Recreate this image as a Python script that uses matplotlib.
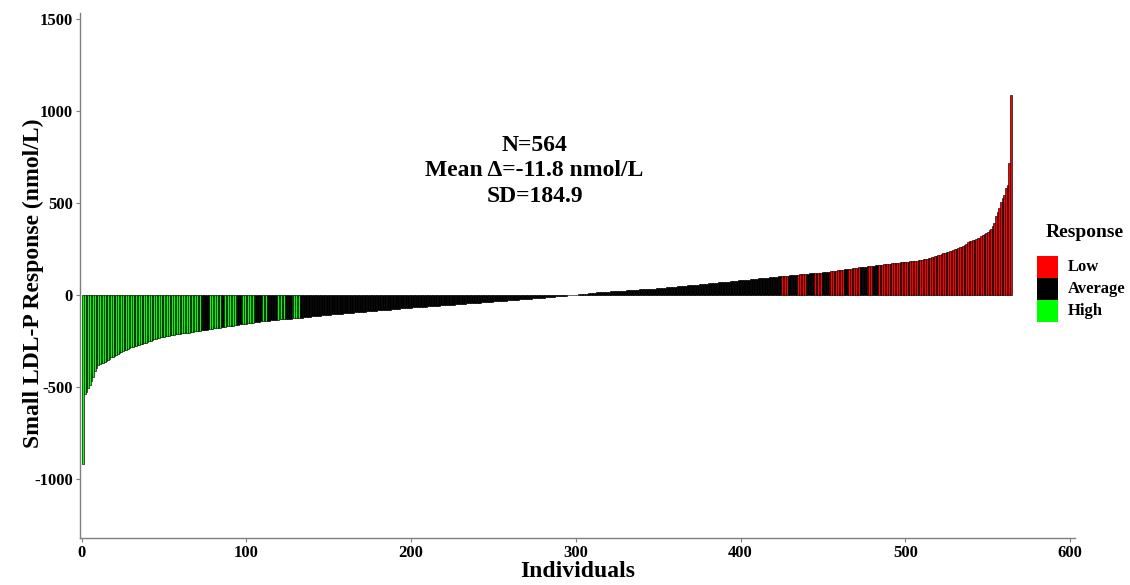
import matplotlib
matplotlib.use('Agg')
import matplotlib.pyplot as plt
from matplotlib.patches import Rectangle
import numpy as np

plt.rcParams['font.family'] = ['Liberation Serif', 'DejaVu Serif']
plt.rcParams['font.weight'] = 'bold'
plt.rcParams['axes.unicode_minus'] = False

# ─── Data: sorted individual responses (nmol/L) ───
responses = [
    -920, -540, -528, -505, -492, -470, -445, -412, -395, -383,
    -378, -372, -368, -365, -360, -352, -346, -340, -335, -330,
    -325, -320, -315, -310, -305, -300, -297, -293, -289, -285,
    -282, -279, -276, -273, -270, -267, -265, -262, -259, -255,
    -252, -249, -245, -241, -238, -235,
    -233, -231, -229, -227, -225, -223, -221, -219, -217, -215,
    -214, -212, -211, -210, -209, -208, -207, -206, -205, -203,
    -202, -200,
    -198, -197, -195, -194, -192, -191, -189, -188, -186, -185,
    -184, -182, -181, -180, -178, -177, -176, -174,
    -173, -171, -170, -168, -167, -166, -164, -163, -162, -160,
    -159, -158, -157, -156, -154, -153, -152, -150, -149, -147,
    -146, -145, -144, -143, -142, -141, -140, -139, -138, -137,
    -136, -135, -134, -133, -132, -131, -131, -130, -129, -128,
    -128, -127, -127, -126, -126, -125,
    -124, -123, -122, -121, -120, -119, -118, -117, -116, -115,
    -114, -113, -112, -111, -110, -109, -108, -107, -107, -106,
    -105, -104, -104, -103,
    -102, -101, -100, -100, -99, -98, -97, -96, -96, -95,
    -94, -93, -93, -92, -91, -90, -89, -89, -88, -87,
    -86, -86, -85, -84, -83, -82, -82, -81, -80, -79,
    -79, -78, -77, -76, -75, -75, -74, -73, -72, -72,
    -71,
    -70, -70, -69, -68, -68, -67, -66, -66, -65, -64,
    -64, -63, -62, -62, -61, -60, -60, -59, -58, -58,
    -57, -56, -56, -55, -54, -54, -53, -52, -52, -51,
    -50, -50, -49, -48, -48, -47, -46, -46, -45, -44,
    -43, -43, -42, -41, -41, -40, -39, -39, -38, -37,
    -37, -36, -35, -35, -34, -33, -32, -32, -31, -30,
    -30, -29, -28, -28, -27, -26, -26, -25, -24, -24,
    -23, -22, -22, -21, -20, -20, -19, -18, -18, -17,
    -16,
    -15, -14, -14, -13, -12, -11, -10, -10, -9, -8,
    -7, -6, -6, -5, -4, -3, -2, -2, -1, 0,
    0, 1, 2, 3, 4, 5, 6, 7, 8, 9, 10, 12,
    12, 13, 14, 14, 15, 15, 16, 17, 17, 18,
    19, 19, 20, 20, 21, 22, 22, 23, 24, 24,
    25, 25, 26, 27, 27, 28, 29, 29, 30, 30,
    31, 32, 32, 33, 34, 34, 35, 35, 36, 37,
    38,
    39, 39, 40, 41, 42, 43, 44, 44, 45, 46,
    47, 48, 49, 49, 50, 51, 52, 53, 54, 54,
    55, 56, 57, 58, 59, 59, 60, 61, 62, 63,
    64, 64, 65, 66, 67, 68, 69, 69, 70, 71,
    72, 73, 74, 75, 76, 77, 78, 79, 79, 80,
    81, 82, 83, 84, 85, 86, 87, 88, 89, 90,
    91, 92, 93, 94, 94, 95, 96, 97, 98, 99,
    100, 101, 102, 103,
    104, 105, 105, 106, 107, 108, 109, 110, 110, 111,
    112, 113, 114, 114, 115, 116, 117, 118, 118, 119,
    120, 121, 122, 122, 123, 124, 125,
    126, 127, 129, 130, 131, 132, 134, 135, 136, 137,
    139, 140, 141, 142, 144, 145, 146, 147, 149, 150,
    151, 152, 153, 154, 155, 156, 157, 158, 159, 161,
    162, 163, 164, 165, 166, 167, 168, 170,
    171, 172, 173, 174, 175, 176, 177, 178, 179, 180,
    181, 182, 183, 184, 185, 186, 187, 188, 190, 192,
    194, 196, 198, 200, 202, 205, 208, 210, 213, 216,
    220, 225, 228, 230, 232, 234, 237, 240,
    244, 248, 252, 256, 260, 263, 268, 274, 280, 288,
    292, 296, 298, 300, 304, 308, 312, 320, 326, 332,
    338, 345,
    352, 360, 376, 392, 430, 450, 473, 506, 525, 544,
    580, 598, 718, 1088,
]

# response class of consecutive individuals (run lengths, same order as above)
class_runs = [
    ("High", 72), ("Average", 5), ("High", 7), ("Average", 2),
    ("High", 8), ("Average", 3), ("High", 8), ("Average", 4),
    ("High", 3), ("Average", 6), ("High", 5), ("Average", 4),
    ("High", 5), ("Average", 292),
    ("Low", 4), ("Average", 6), ("Low", 6), ("Average", 4),
    ("Low", 5), ("Average", 4), ("Low", 9), ("Average", 3),
    ("Low", 7), ("Average", 4), ("Low", 4), ("Average", 3),
    ("Low", 81),
]

class_names = ["Low", "Average", "High"]
class_colors = {"Low": "#FF0000", "Average": "#000000", "High": "#00FF00"}

x_ticks = [0, 100, 200, 300, 400, 500, 600]
y_ticks = [-1000, -500, 0, 500, 1000, 1500]

stats_lines = ["N=564", "Mean \u0394=-11.8 nmol/L", "SD=184.9"]

# ─── Build figure ──────────────────────────────────────────────
W, H = 1130, 585
classes = []
for name, n in class_runs:
    classes += [name] * n

individuals = np.arange(1, len(responses) + 1)
bar_colors = [class_colors[c] for c in classes]

fig = plt.figure(figsize=(W / 100, H / 100), dpi=100)
ax = fig.add_axes([80 / W, 47 / H, 995 / W, 525 / H])

ax.bar(individuals, responses, width=1.0, color=bar_colors,
       edgecolor='black', linewidth=0.45)

ax.set_xlim(-1, 603)
ax.set_ylim(-1322, 1534)
ax.set_xticks(x_ticks)
ax.set_yticks(y_ticks)
ax.tick_params(axis='both', labelsize=12, color='#7f7f7f', length=3,
               width=0.8, pad=2)
for lbl in ax.get_xticklabels() + ax.get_yticklabels():
    lbl.set_fontweight('bold')

for side in ['top', 'right']:
    ax.spines[side].set_visible(False)
for side in ['left', 'bottom']:
    ax.spines[side].set_color('#7f7f7f')
    ax.spines[side].set_linewidth(1.0)

ax.set_xlabel('Individuals', fontsize=17, fontweight='bold', labelpad=0)
ax.set_ylabel('Small LDL-P Response (nmol/L)', fontsize=17,
              fontweight='bold')
ax.yaxis.set_label_coords(-0.036, 0.486)

ax.text(275, 675, "\n".join(stats_lines), ha='center', va='center',
        fontsize=17, fontweight='bold', linespacing=1.3)

# ─── Legend (drawn by hand to match key size) ──────────────────
def fx(px):
    return px / W


def fy(px):
    return 1 - px / H


fig.text(fx(1085), fy(233), 'Response', ha='center', va='center',
         fontsize=14, fontweight='bold')
for k, name in enumerate(class_names):
    top = 256 + 22 * k
    fig.add_artist(Rectangle((fx(1037), fy(top + 22)), 21 / W, 22 / H,
                             transform=fig.transFigure,
                             facecolor=class_colors[name], edgecolor='none'))
    fig.text(fx(1068), fy(top + 11), name, ha='left', va='center',
             fontsize=12, fontweight='bold')

plt.savefig('out.png', dpi=100)
plt.close()
